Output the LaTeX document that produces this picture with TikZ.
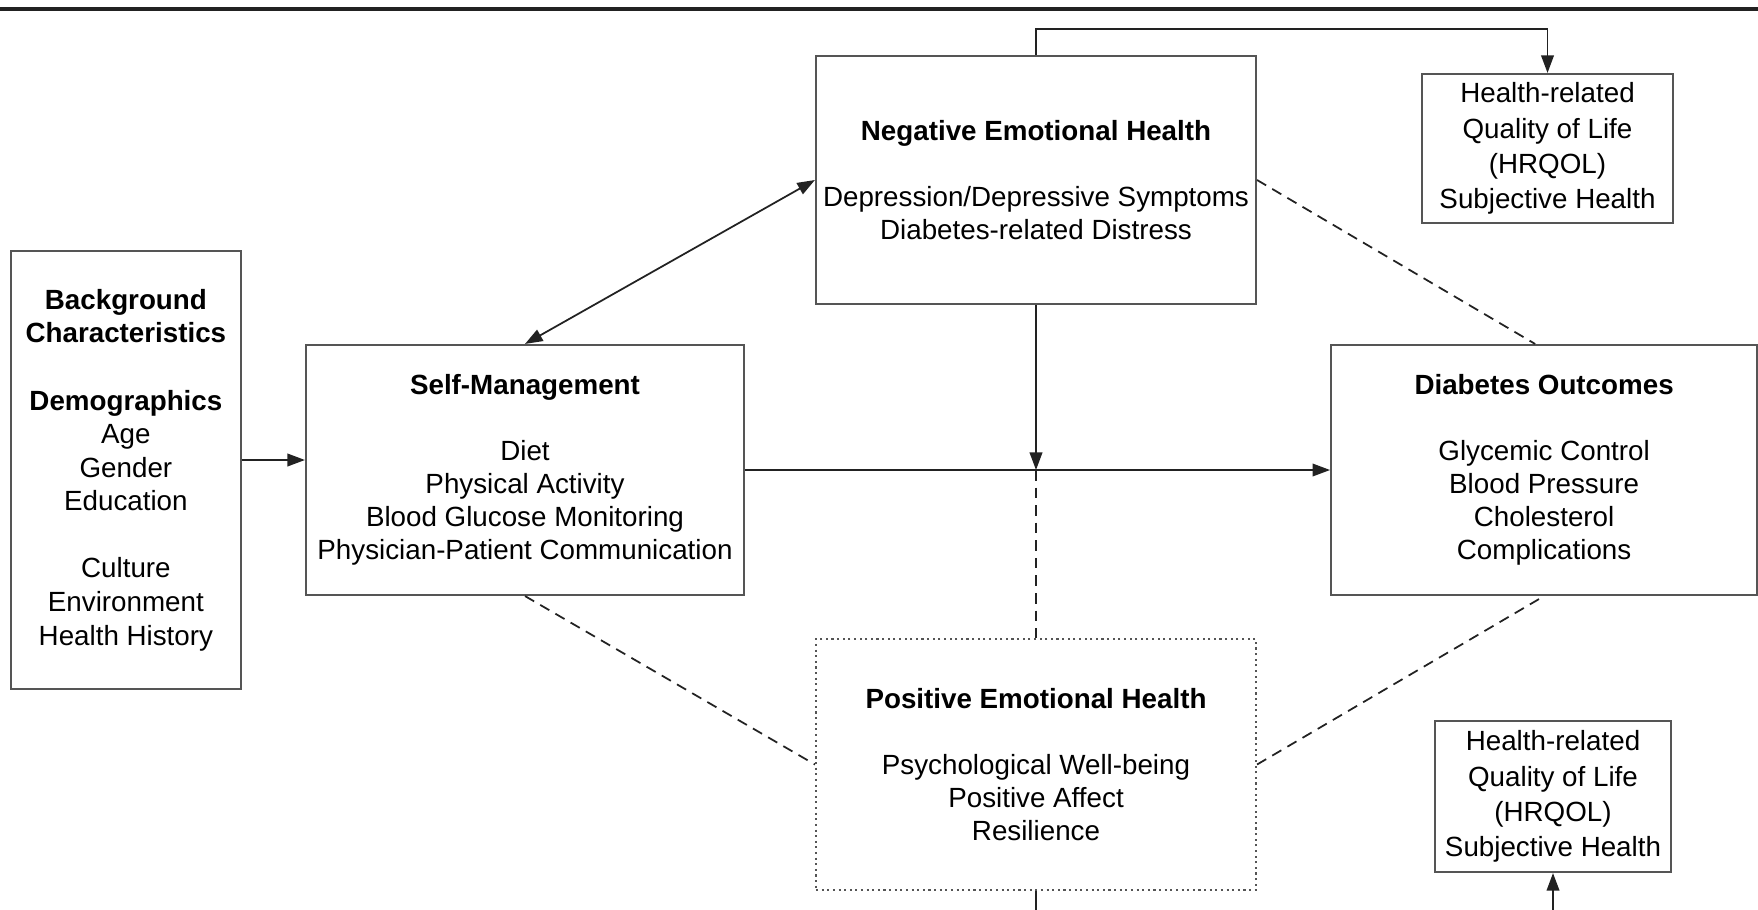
\documentclass[tikz,border=0pt]{standalone}
\usepackage{fontspec}
\setmainfont{Liberation Sans}
\usetikzlibrary{arrows.meta, positioning}
\definecolor{Ink} {HTML}{222222}
\definecolor{Edge}{HTML}{555555}
\tikzset{
  box/.style={draw=Edge, line width=0.6pt, align=center, inner sep=0pt,
              font=\fontsize{7.9}{9.4}\selectfont},
  qolbox/.style={box, font=\fontsize{7.9}{10}\selectfont},
  arr/.style={-{Triangle[length=5pt,width=3.6pt]}, line width=0.5pt, draw=Ink},
  arrboth/.style={{Triangle[length=5pt,width=3.6pt]}-{Triangle[length=5pt,width=3.6pt]},
                  line width=0.5pt, draw=Ink},
  dashln/.style={line width=0.5pt, draw=Ink, dash pattern=on 3pt off 2pt}
}

\begin{document}
\begin{tikzpicture}
  \useasboundingbox (0,0) rectangle (17.58,-9.09);
  \draw[line width=1.1pt, Ink] (0,-0.09) -- (17.58,-0.09);

  \node[box, minimum width=4.38cm, minimum height=2.50cm] (sm) at (5.25,-4.70)
    {\textbf{Self-Management}\\[9.4pt] Diet\\ Physical Activity\\
     Blood Glucose Monitoring\\ Physician-Patient Communication};
  \node[box, minimum width=4.26cm, minimum height=2.50cm, right=5.85cm of sm] (do)
    {\textbf{Diabetes Outcomes}\\[9.4pt] Glycemic Control\\ Blood Pressure\\
     Cholesterol\\ Complications};
  \node[box, font=\fontsize{7.9}{9.55}\selectfont, minimum width=2.30cm, minimum height=4.38cm,
        left=0.63cm of sm] (bg)
    {\textbf{Background}\\ \textbf{Characteristics}\\[9.55pt] \textbf{Demographics}\\
     Age\\ Gender\\ Education\\[9.55pt] Culture\\ Environment\\ Health History};
  \node[box, minimum width=4.40cm, minimum height=2.48cm] (neg) at (10.36,-1.80)
    {\textbf{Negative Emotional Health}\\[9.4pt] Depression/Depressive Symptoms\\
     Diabetes-related Distress};
  \node[box, densely dotted, minimum width=4.40cm, minimum height=2.51cm] (pos) at (10.36,-7.645)
    {\textbf{Positive Emotional Health}\\[9.4pt] Psychological Well-being\\
     Positive Affect\\ Resilience};
  \node[qolbox, minimum width=2.51cm, minimum height=1.49cm] (qol1) at (15.475,-1.485)
    {Health-related\\ Quality of Life\\ (HRQOL)\\ Subjective Health};
  \node[qolbox, minimum width=2.36cm, minimum height=1.51cm] (qol2) at (15.53,-7.965)
    {Health-related\\ Quality of Life\\ (HRQOL)\\ Subjective Health};

  \coordinate (mid) at (neg.south |- sm.east);
  \draw[arr] ([yshift=0.1cm]bg.east) -- ([yshift=0.1cm]sm.west);
  \draw[arr] (sm.east) -- (do.west);
  \draw[arr] (neg.south) -- (mid);
  \draw[dashln] (mid) -- (pos.north);
  \draw[arrboth] (sm.north) -- (neg.west);
  \draw[dashln] (neg.east) -- ([xshift=-0.09cm]do.north);
  \draw[dashln] (sm.south) -- (pos.west);
  \draw[dashln] (pos.east) -- (do.south);
  \draw[arr] (neg.north) -- ++(0,0.26) -| (qol1.north);
  \draw[arr] (pos.south) -- ++(0,-0.3) -| (qol2.south);
\end{tikzpicture}
\end{document}
